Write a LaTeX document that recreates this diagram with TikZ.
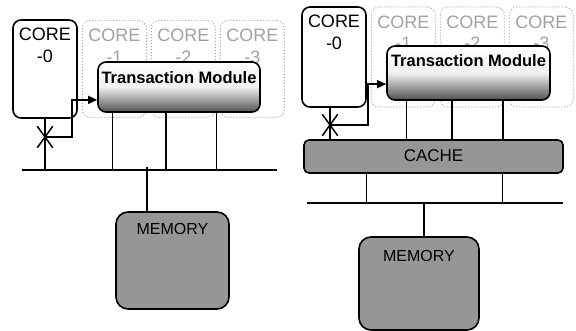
\documentclass[tikz,border=0pt]{standalone}
\usepackage{fontspec}
\setmainfont{Liberation Sans}
\usetikzlibrary{positioning,arrows.meta,calc,shapes.misc}

\begin{document}
\begin{tikzpicture}[x=1pt,y=-1pt,line width=1.5pt,node distance=4pt,
  core/.style={draw,line width=1.6pt,rounded corners=8pt,minimum width=64pt,minimum height=98pt,inner sep=0pt},
  ghost/.style={draw=black!35,dotted,line width=1pt,rounded corners=8pt,minimum width=64pt,minimum height=97pt,inner sep=0pt},
  corelbl/.style={anchor=north,align=center,yshift=-5pt,font=\fontsize{18}{21.6}\selectfont},
  ghostlbl/.style={corelbl,text=black!37},
  tmod/.style={draw,line width=1.6pt,rounded corners=8pt,top color=white,bottom color=black!68,middle color=black!6,inner sep=0pt},
  tmlbl/.style={anchor=north,yshift=-6pt,font=\fontsize{16.5}{19}\selectfont\bfseries},
  graybox/.style={draw,line width=1.6pt,fill=black!41,inner sep=0pt},
  memlbl/.style={anchor=north,font=\fontsize{16}{19}\selectfont},
  xmark/.style={cross out,draw,line width=1.5pt,minimum width=14pt,minimum height=20pt,inner sep=0pt},
  arr/.style={-{Triangle[length=9pt,width=8pt]}}]
\useasboundingbox (0,0) rectangle (576,331);

% ---- left: cores straight on the bus ----
\node[core,label={[corelbl]north:CORE\\-0}] (c0L) at (45,69) {};
\node[ghost,label={[ghostlbl]north:CORE\\-1},right=of c0L] (g1L) {};
\node[ghost,label={[ghostlbl]north:CORE\\-2},right=of g1L] (g2L) {};
\node[ghost,label={[ghostlbl]north:CORE\\-3},right=of g2L] (g3L) {};
\node[tmod,minimum width=162pt,minimum height=50pt,label={[tmlbl]north:Transaction Module}] (tmL) at (179,87) {};

\coordinate (busLa) at (22,170);
\coordinate (busLb) at (277,170);
\draw (busLa) -- (busLb);

\draw (c0L.south) -- (c0L.south |- busLa);
\foreach \f in {0.093,0.42,0.728} {
  \coordinate (t) at ($(tmL.south west)!\f!(tmL.south east)$);
  \draw (t) -- (t |- busLa);
}
\node[xmark] (xL) at (45,137) {};
\draw[arr] (xL.center) -- ++(27,0) |- ($(tmL.west)!0.5!(tmL.south west)$);

\node[graybox,rounded corners=12pt,minimum width=113pt,minimum height=97pt,label={[memlbl,yshift=-8.5pt]north:MEMORY}] (memL) at (172.5,260.5) {};
\coordinate (tapL) at (147,167);
\draw (tapL) -- (tapL |- memL.north);

% ---- right: cores behind a shared cache ----
\node[core,minimum height=100pt,label={[corelbl]north:CORE\\-0}] (c0R) at (334,57) {};
\node[ghost,minimum height=100pt,label={[ghostlbl]north:CORE\\-1},right=of c0R] (g1R) {};
\node[ghost,minimum height=100pt,label={[ghostlbl]north:CORE\\-2},right=of g1R] (g2R) {};
\node[ghost,minimum height=100pt,label={[ghostlbl]north:CORE\\-3},right=of g2R] (g3R) {};
\node[tmod,minimum width=163pt,minimum height=54pt,label={[tmlbl,yshift=1pt]north:Transaction Module}] (tmR) at (468.5,73) {};

\node[graybox,rounded corners=5pt,minimum width=259pt,minimum height=33pt,font=\fontsize{17}{20}\selectfont] (cache) at (433.5,156.5) {\raisebox{2pt}{CACHE}};

\draw ([xshift=-4pt]c0R.south) -- ([xshift=-4pt]c0R.south |- cache.north);
\foreach \f in {0.123,0.40,0.71} {
  \coordinate (t) at ($(tmR.south west)!\f!(tmR.south east)$);
  \draw (t) -- (t |- cache.north);
}
\node[xmark] (xR) at (330,125) {};
\draw[arr] (xR.center) -- ++(38,0) |- ($(tmR.west)!0.4!(tmR.south west)$);

\coordinate (busRa) at (307,203);
\coordinate (busRb) at (563,203);
\draw (busRa) -- (busRb);
\foreach \f in {0.243,0.764} {
  \coordinate (t) at ($(cache.south west)!\f!(cache.south east)$);
  \draw (t) -- (t |- busRa);
}

\node[graybox,rounded corners=12pt,minimum width=120pt,minimum height=93pt,label={[memlbl,yshift=-10.5pt]north:MEMORY}] (memR) at (419,283.5) {};
\draw ([xshift=5pt]memR.north) -- ([xshift=5pt]memR.north |- busRa);
\end{tikzpicture}
\end{document}
